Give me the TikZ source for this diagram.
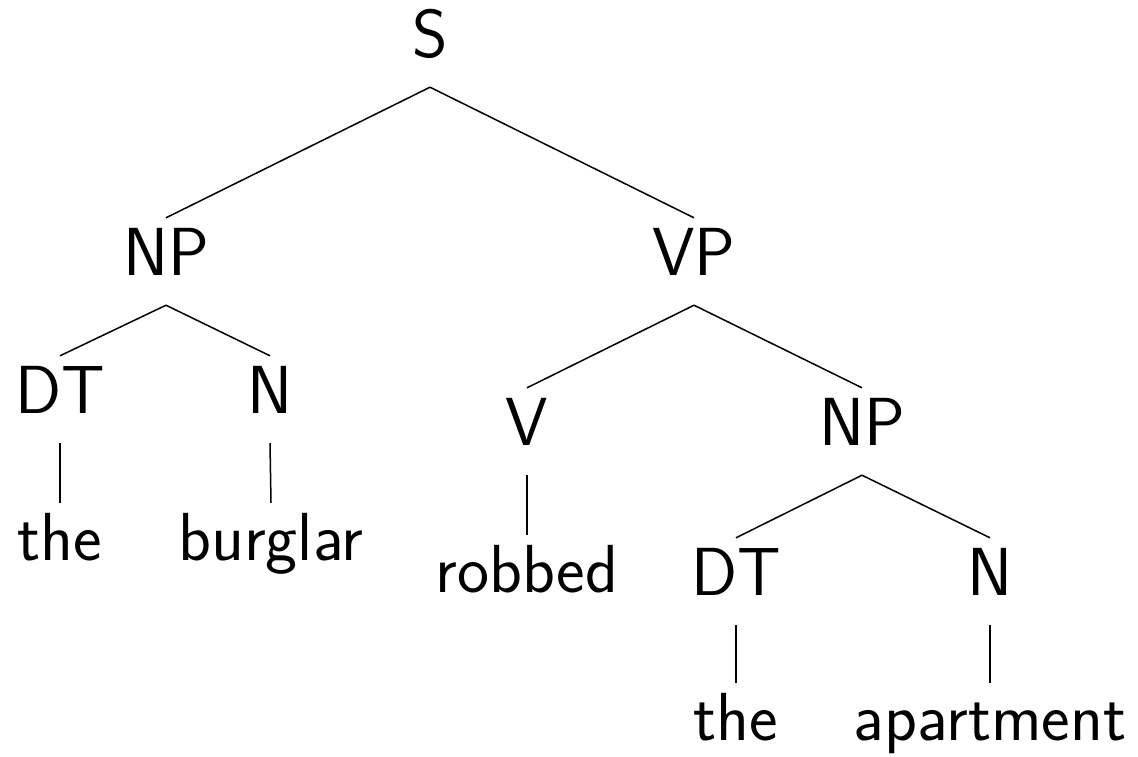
\documentclass[tikz,border=0pt]{standalone}
\usepackage{fontspec}
\begin{document}
\begin{tikzpicture}[x=1pt,y=-1pt,
  lab/.style={anchor=base, font=\sffamily\fontsize{68}{80}\selectfont,
    text height=45pt, text depth=18pt, inner ysep=12pt, inner xsep=0pt},
  edge/.style={draw=black, line width=1.5pt}]
\useasboundingbox (0,0) rectangle (1138,756);
\node[lab] (S) at (430,57) {S};
\node[lab] (NP) at (166,275) {NP};
\node[lab] (VP) at (694,275) {VP};
\node[lab] (DT) at (60,413) {DT};
\node[lab] (N) at (270,413) {N};
\node[lab] (the) at (60,560) {the};
\node[lab] (burglar) at (271,560) {burglar};
\node[lab] (V) at (527,445) {V};
\node[lab] (NPb) at (862,445) {NP};
\node[lab] (robbed) at (527,592) {robbed};
\node[lab] (DTb) at (736,595) {DT};
\node[lab] (Nb) at (990,595) {N};
\node[lab] (theb) at (736,740) {the};
\node[lab] (apartment) at (990,740) {apartment};
\draw[edge] (S.south) -- (NP.north);
\draw[edge] (S.south) -- (VP.north);
\draw[edge] (NP.south) -- (DT.north);
\draw[edge] (NP.south) -- (N.north);
\draw[edge] (DT.south) -- (the.north);
\draw[edge] (N.south) -- (burglar.north);
\draw[edge] (VP.south) -- (V.north);
\draw[edge] (VP.south) -- (NPb.north);
\draw[edge] (V.south) -- (robbed.north);
\draw[edge] (NPb.south) -- (DTb.north);
\draw[edge] (NPb.south) -- (Nb.north);
\draw[edge] (DTb.south) -- (theb.north);
\draw[edge] (Nb.south) -- (apartment.north);
\end{tikzpicture}
\end{document}
